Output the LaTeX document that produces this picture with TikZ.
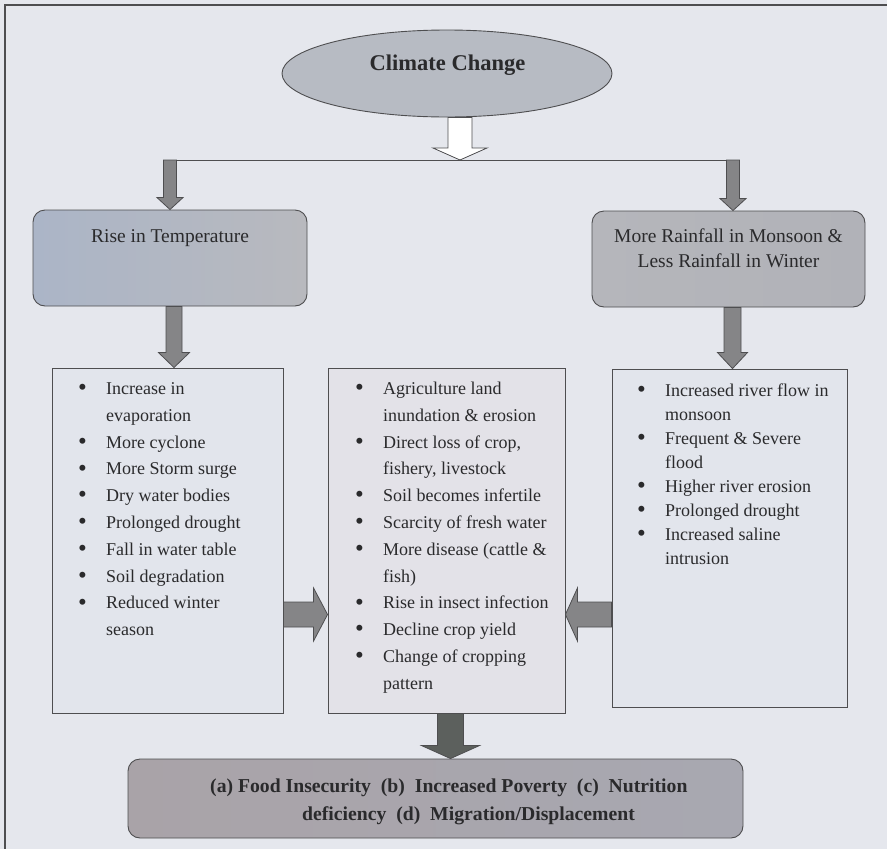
\documentclass[tikz,border=0pt]{standalone}
\usepackage{fontspec}
\setmainfont{Liberation Serif}
\usetikzlibrary{calc,shapes.geometric}
\definecolor{bg}{HTML}{E5E7ED}
\definecolor{edge}{HTML}{4E4E50}
\definecolor{ellfill}{HTML}{B7BBC3}
\definecolor{listfill}{HTML}{E2E5EC}
\definecolor{midfill}{HTML}{E3E2E8}
\definecolor{arrfill}{HTML}{858587}
\definecolor{arrdark}{HTML}{5C605D}
\definecolor{txt}{HTML}{2A2A2C}
\definecolor{riseL}{HTML}{ABB5C7}
\definecolor{riseR}{HTML}{B8B9BE}
\definecolor{rainL}{HTML}{B5B6BB}
\definecolor{rainR}{HTML}{B1B2B8}
\definecolor{botL}{HTML}{A9A3A8}
\definecolor{botM}{HTML}{BCC3CB}
\definecolor{botR}{HTML}{A8A8B1}
\newcommand\vblock[6]{%
  \path[#6] let \p1=(#1), \p2=(#2) in
    (\x1-#3,\y1) -- (\x1-#3,\y2+#5) -- (\x1-#4,\y2+#5) -- (\x1,\y2)
    -- (\x1+#4,\y2+#5) -- (\x1+#3,\y2+#5) -- (\x1+#3,\y1) -- cycle;}
\newcommand\hblockR[6]{%
  \path[#6] let \p1=(#1), \p2=(#2) in
    (\x1,\y1+#3) -- (\x2-#5,\y1+#3) -- (\x2-#5,\y1+#4) -- (\x2,\y1)
    -- (\x2-#5,\y1-#4) -- (\x2-#5,\y1-#3) -- (\x1,\y1-#3) -- cycle;}
\newcommand\hblockL[6]{%
  \path[#6] let \p1=(#1), \p2=(#2) in
    (\x1,\y1+#3) -- (\x2+#5,\y1+#3) -- (\x2+#5,\y1+#4) -- (\x2,\y1)
    -- (\x2+#5,\y1-#4) -- (\x2+#5,\y1-#3) -- (\x1,\y1-#3) -- cycle;}
\newcommand\bul{\makebox[28pt][l]{\raisebox{-1.2pt}{\fontsize{25}{25}\selectfont\textbullet}}}
\newcommand\cnt{\hspace*{28pt}}
\tikzset{
  rbox/.style={draw=edge, line width=0.9pt, rounded corners=12pt, inner sep=0pt},
  lbox/.style={draw=edge, line width=0.9pt, fill=listfill, inner sep=0pt},
  blk/.style={fill=arrfill, draw=edge, line width=0.8pt},
  blkdark/.style={fill=arrdark, draw=edge, line width=0.8pt},
  hollow/.style={fill=white, draw=edge, line width=0.8pt},
  listtext/.style={anchor=north west, inner sep=0pt, align=left, text=txt,
    font=\fontsize{18}{26.8}\selectfont},
  headtext/.style={inner sep=0pt, text=txt, font=\fontsize{19.5}{25}\selectfont}
}
\begin{document}
\begin{tikzpicture}[x=1pt,y=-1pt]
\useasboundingbox (0,0) rectangle (887,849);
\fill[bg] (0,0) rectangle (887,849);
\draw[edge, line width=1.2pt] (5,849) -- (5,5) -- (887,5);

% top ellipse
\node[ellipse, draw=edge, line width=0.9pt, fill=ellfill, minimum width=330, minimum height=87, inner sep=0pt] (cc) at (447,73.5) {};
\node[anchor=base, inner sep=0pt, text=txt, font=\fontsize{22.5}{26}\selectfont\bfseries] (cct) at (447.5,70) {Climate Change};

% distribution bar
\coordinate (bl) at (170,160);
\coordinate (br) at (733,160);
\coordinate (hs) at ($(cc.south)+(13,0)$);
\draw[edge, line width=1pt] (bl) -- (br);
\vblock{hs}{hs |- bl}{12}{27}{12}{hollow}

% cause boxes
\node[rbox, left color=riseL, right color=riseR, minimum width=274, minimum height=96] (rise) at (170,258) {};
\node[headtext, anchor=base] (riset) at ($(rise.north)+(0,33)$) {Rise in Temperature};
\node[rbox, left color=rainL, right color=rainR, minimum width=273, minimum height=96] (rain) at (728.5,259) {};
\node[headtext, anchor=north, align=center] (raint) at ($(rain.north)+(0,14.5)$) {\strut More Rainfall in Monsoon \&\\Less Rainfall in Winter};

\vblock{bl}{bl |- rise.north}{6.5}{13}{12}{blk}
\vblock{br}{br |- rain.north}{6.5}{13}{12}{blk}

% list boxes
\node[lbox, minimum width=231, minimum height=345] (L) at (167.5,540.5) {};
\node[lbox, fill=midfill, minimum width=237, minimum height=345] (M) at (446.5,540.5) {};
\node[lbox, minimum width=235, minimum height=338] (R) at (729.5,538) {};

\coordinate (ra) at ($(rise.south)+(4,0)$);
\coordinate (rb) at ($(rain.south)+(4,0)$);
\vblock{ra}{ra |- L.north}{8}{15.5}{15}{blk}
\vblock{rb}{rb |- R.north}{8.5}{15}{16}{blk}

\node[listtext] (Lt) at (78,375.5) {\strut\bul Increase in\\
\cnt evaporation\\
\bul More cyclone\\
\bul More Storm surge\\
\bul Dry water bodies\\
\bul Prolonged drought\\
\bul Fall in water table\\
\bul Soil degradation\\
\bul Reduced winter\\
\cnt season};

\node[listtext] (Mt) at (355,375.5) {\strut\bul Agriculture land\\
\cnt inundation \& erosion\\
\bul Direct loss of crop,\\
\cnt fishery, livestock\\
\bul Soil becomes infertile\\
\bul Scarcity of fresh water\\
\bul More disease (cattle \&\\
\cnt fish)\\
\bul Rise in insect infection\\
\bul Decline crop yield\\
\bul Change of cropping\\
\cnt pattern};

\node[listtext, font=\fontsize{18}{24}\selectfont] (Rt) at (637,379.2) {\strut\bul Increased river flow in\\
\cnt monsoon\\
\bul Frequent \& Severe\\
\cnt flood\\
\bul Higher river erosion\\
\bul Prolonged drought\\
\bul Increased saline\\
\cnt intrusion};

% side arrows
\coordinate (hy) at (0,614.5);
\hblockR{L.east |- hy}{M.west |- hy}{12.5}{26.5}{14}{blk}
\hblockL{R.west |- hy}{M.east |- hy}{12.5}{26.5}{12}{blk}

% result box
\node[rbox, left color=botL, middle color=botM, right color=botR, minimum width=615, minimum height=79] (B) at (435.5,798.5) {};
\coordinate (mb) at ($(M.south)+(4,0)$);
\vblock{mb}{mb |- B.north}{13}{29}{13}{blkdark}
\node[anchor=north west, inner sep=0pt, align=left, text=txt, font=\fontsize{19.7}{28}\selectfont\bfseries] (Bt) at (210,772.7) {\strut(a) Food Insecurity\ \ (b)\ \ Increased Poverty\ \ (c)\ \ Nutrition\\
\hspace*{92pt}deficiency\ \ (d)\ \ Migration/Displacement};
\end{tikzpicture}
\end{document}
